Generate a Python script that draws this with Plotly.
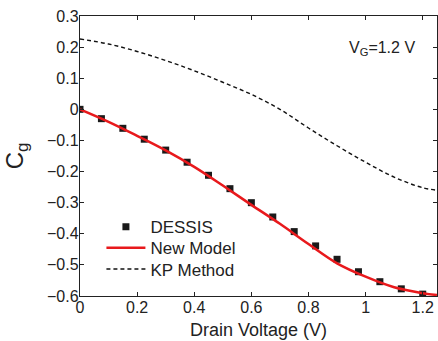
import plotly.graph_objects as go

# DESSIS simulation points
dessis_x = [0, 0.075, 0.15, 0.225, 0.3, 0.375, 0.45, 0.525, 0.6, 0.675, 0.75,
            0.825, 0.9, 0.975, 1.05, 1.125, 1.2]
dessis_y = [0.0, -0.03, -0.061, -0.096, -0.131, -0.170, -0.212, -0.255, -0.300,
            -0.346, -0.393, -0.439, -0.482, -0.522, -0.554, -0.577, -0.594]

# New model curve
model_x = [0, 0.1, 0.2, 0.3, 0.4, 0.5, 0.6, 0.7, 0.8, 0.9, 1.0, 1.1, 1.2, 1.25]
model_y = [0.0, -0.04, -0.085, -0.132, -0.185, -0.245, -0.307, -0.368, -0.433,
           -0.495, -0.538, -0.572, -0.591, -0.597]

# KP method curve
kp_x = [0, 0.1, 0.2, 0.3, 0.4, 0.5, 0.6, 0.7, 0.8, 0.9, 1.0, 1.1, 1.2, 1.25]
kp_y = [0.226, 0.21, 0.186, 0.157, 0.124, 0.087, 0.048, 0.0, -0.06, -0.117,
        -0.17, -0.218, -0.252, -0.26]

x_ticks = [0, 0.2, 0.4, 0.6, 0.8, 1.0, 1.2]
x_tick_text = ["0", "0.2", "0.4", "0.6", "0.8", "1", "1.2"]
y_ticks = [0.3, 0.2, 0.1, 0, -0.1, -0.2, -0.3, -0.4, -0.5, -0.6]
y_tick_text = ["0.3", "0.2", "0.1", "0", "\u22120.1", "\u22120.2", "\u22120.3",
               "\u22120.4", "\u22120.5", "\u22120.6"]

font = "Liberation Sans, Arial, sans-serif"

fig = go.Figure()
fig.add_trace(go.Scatter(x=dessis_x, y=dessis_y, mode="markers", name="DESSIS",
                         legend="legend",
                         marker=dict(symbol="square", size=7, color="#1a1a1a")))
fig.add_trace(go.Scatter(x=model_x, y=model_y, mode="lines", name="New Model",
                         legend="legend2",
                         line=dict(color="#e8191c", width=2.5, shape="spline")))
fig.add_trace(go.Scatter(x=kp_x, y=kp_y, mode="lines", name="KP Method",
                         legend="legend3",
                         line=dict(color="#111111", width=1.4, dash="4px,3px",
                                   shape="spline")))

axis_common = dict(showgrid=False, zeroline=False, showline=True, linecolor="#222",
                   linewidth=1.4, mirror="ticks", ticks="inside", ticklen=4,
                   tickcolor="#222", ticklabelstandoff=-3,
                   tickfont=dict(family=font, size=16, color="#222"))

fig.update_xaxes(range=[0, 1.25], tickvals=x_ticks, ticktext=x_tick_text,
                 title=dict(text="Drain Voltage (V)",
                            font=dict(family=font, size=18, color="#222"), standoff=7),
                 **axis_common)
fig.update_yaxes(range=[-0.6, 0.3], tickvals=y_ticks, ticktext=y_tick_text,
                 title=dict(text="C<sub>g</sub>",
                            font=dict(family=font, size=24, color="#222"), standoff=16),
                 **axis_common)

fig.add_annotation(x=0.944, y=0.885, xref="paper", yref="paper", xanchor="right",
                   yanchor="middle", showarrow=False,
                   text="V<sub>G</sub>=1.2 V",
                   font=dict(family=font, size=16, color="#222"))

leg_common = dict(x=0.06, xanchor="left", yanchor="top", bgcolor="rgba(0,0,0,0)",
                  font=dict(family=font, size=17, color="#222"), itemwidth=39)

fig.update_layout(
    width=438, height=341,
    margin=dict(l=80, r=1, t=16, b=45),
    paper_bgcolor="white", plot_bgcolor="white",
    showlegend=True,
    legend=dict(y=0.31, **leg_common),
    legend2=dict(y=0.235, **leg_common),
    legend3=dict(y=0.159, **leg_common),
)

fig.write_html("out.html")
